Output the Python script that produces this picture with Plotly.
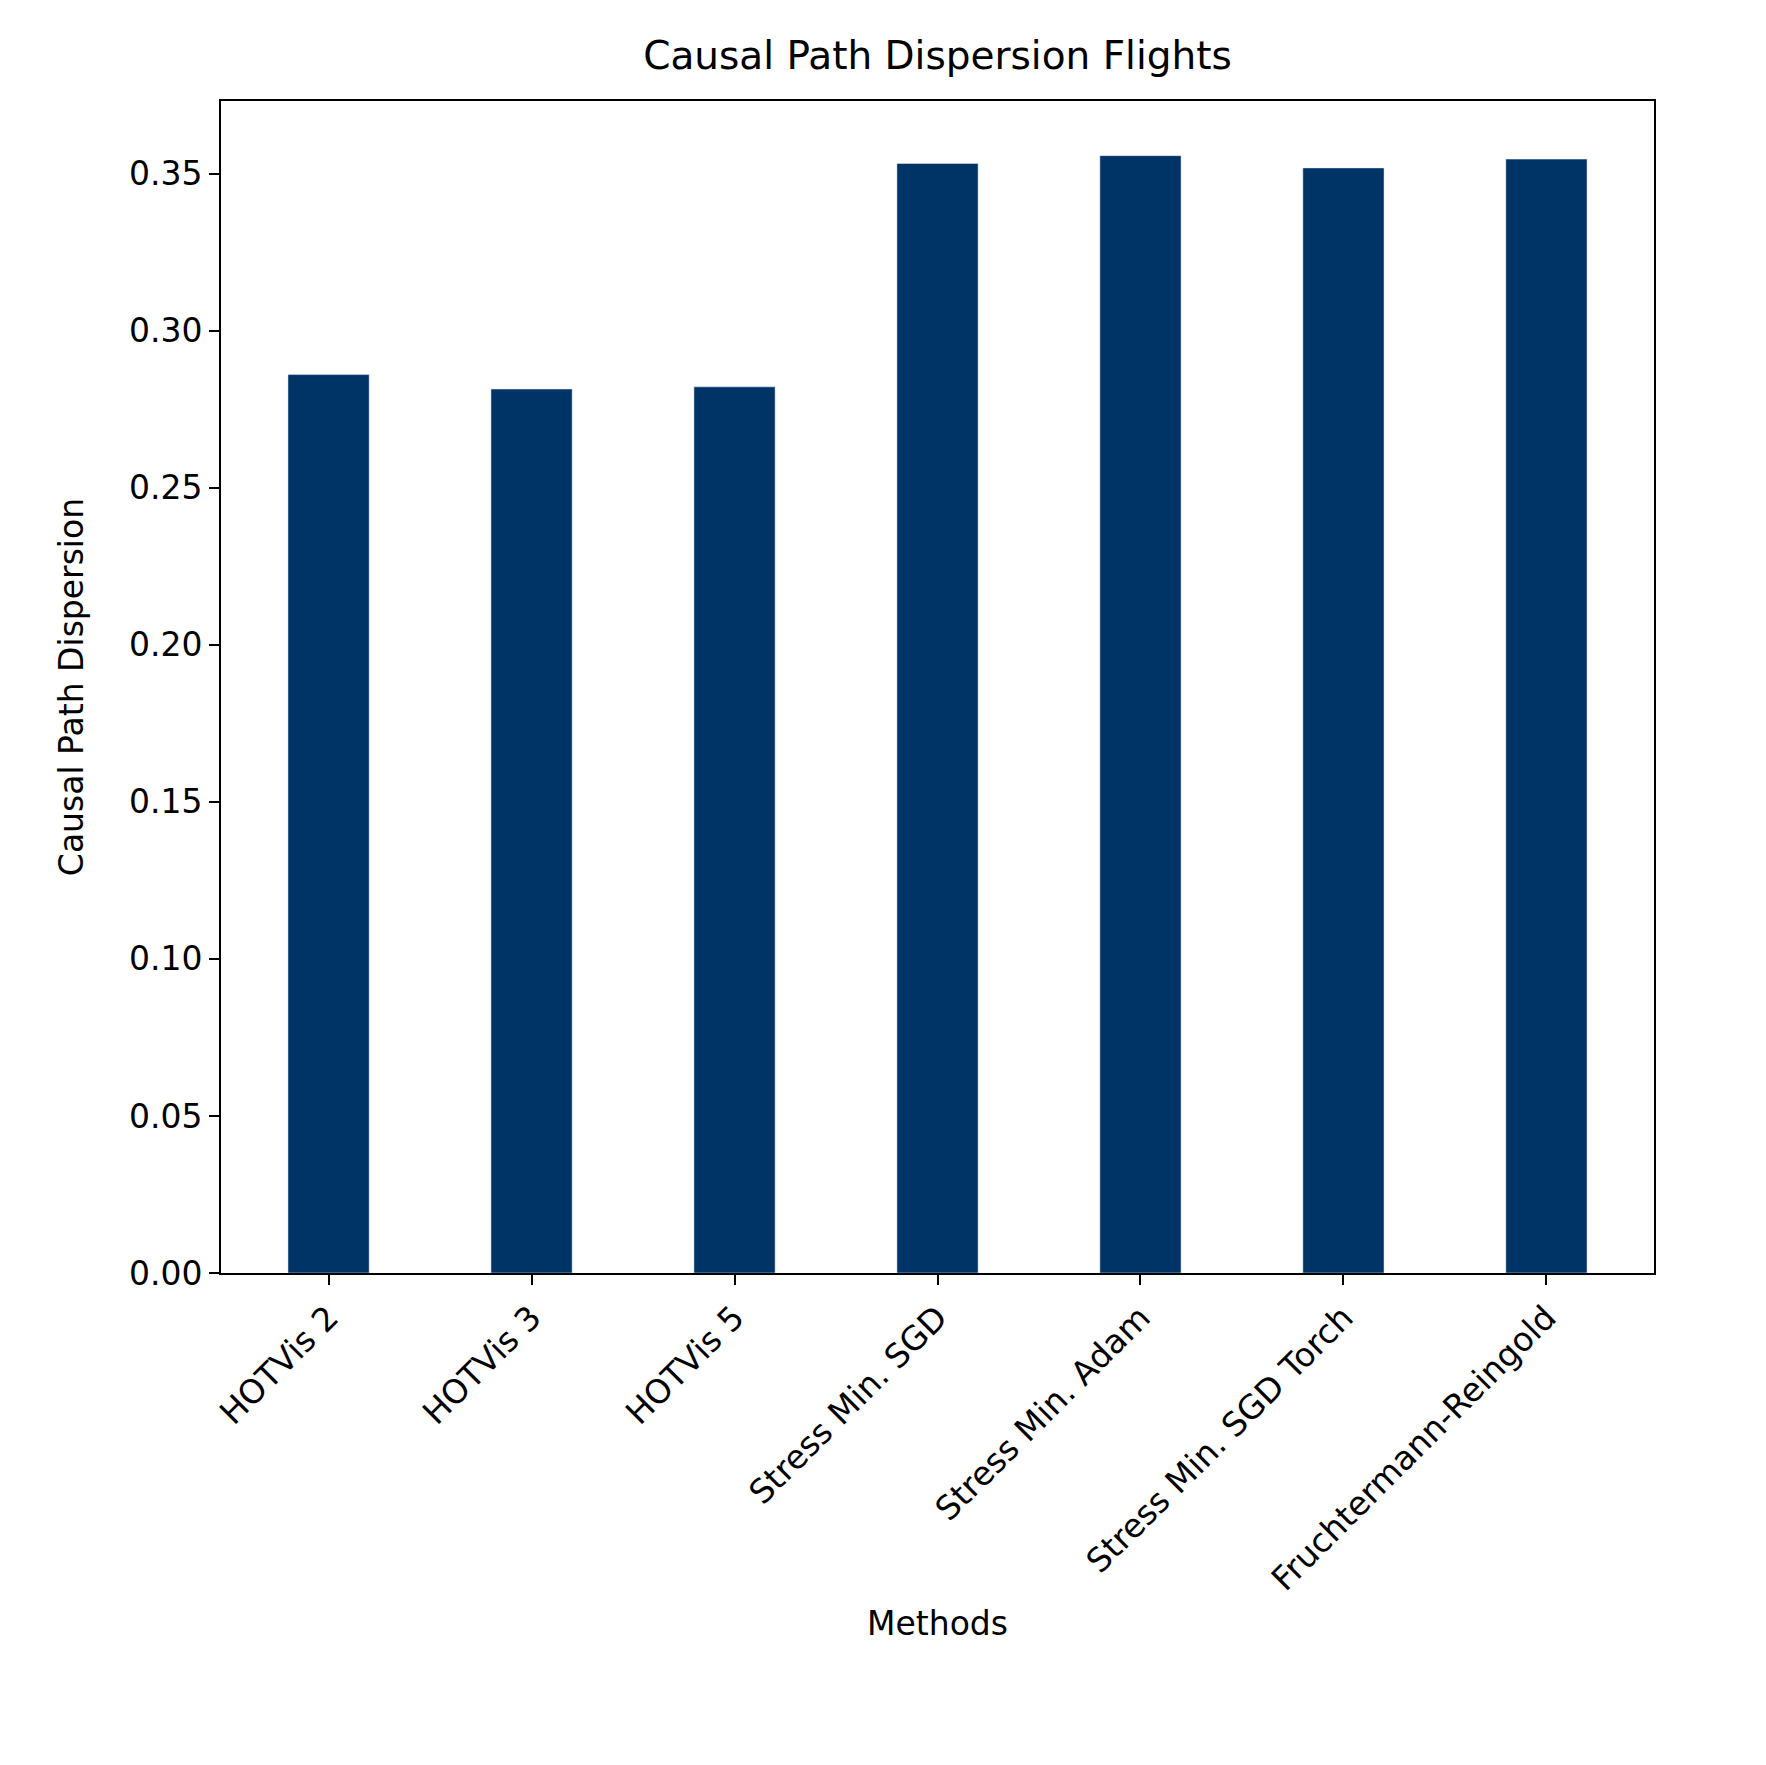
import plotly.graph_objects as go

methods = ["HOTVis 2", "HOTVis 3", "HOTVis 5", "Stress Min. SGD", "Stress Min. Adam",
           "Stress Min. SGD Torch", "Fruchtermann-Reingold"]
dispersion = [0.286, 0.2814, 0.2821, 0.3532, 0.3557, 0.3518, 0.3546]

fig = go.Figure(go.Bar(x=methods, y=dispersion, marker_color="#003366", width=0.4))

axis_common = dict(showline=True, linecolor="black", linewidth=2, mirror=True,
                   ticks="outside", ticklen=10, tickwidth=2, tickcolor="black",
                   showgrid=False, zeroline=False,
                   tickfont=dict(size=33, color="black"))
fig.update_xaxes(title=dict(text="Methods", font=dict(size=33, color="black"), standoff=15),
                 tickangle=-45, range=[-0.53, 6.53], **axis_common)
fig.update_yaxes(title=dict(text="Causal Path Dispersion", font=dict(size=33, color="black"),
                            standoff=35),
                 range=[0, 0.3731], dtick=0.05, tickformat=".2f", **axis_common)
fig.update_layout(
    width=1766, height=1765,
    title=dict(text="Causal Path Dispersion Flights", xref="paper", x=0.5, xanchor="center",
               y=0.981, font=dict(size=39, color="black")),
    font=dict(family="DejaVu Sans"),
    plot_bgcolor="white", paper_bgcolor="white",
    margin=dict(l=213, r=120, t=93, b=500),
)
fig.write_html("out.html")
